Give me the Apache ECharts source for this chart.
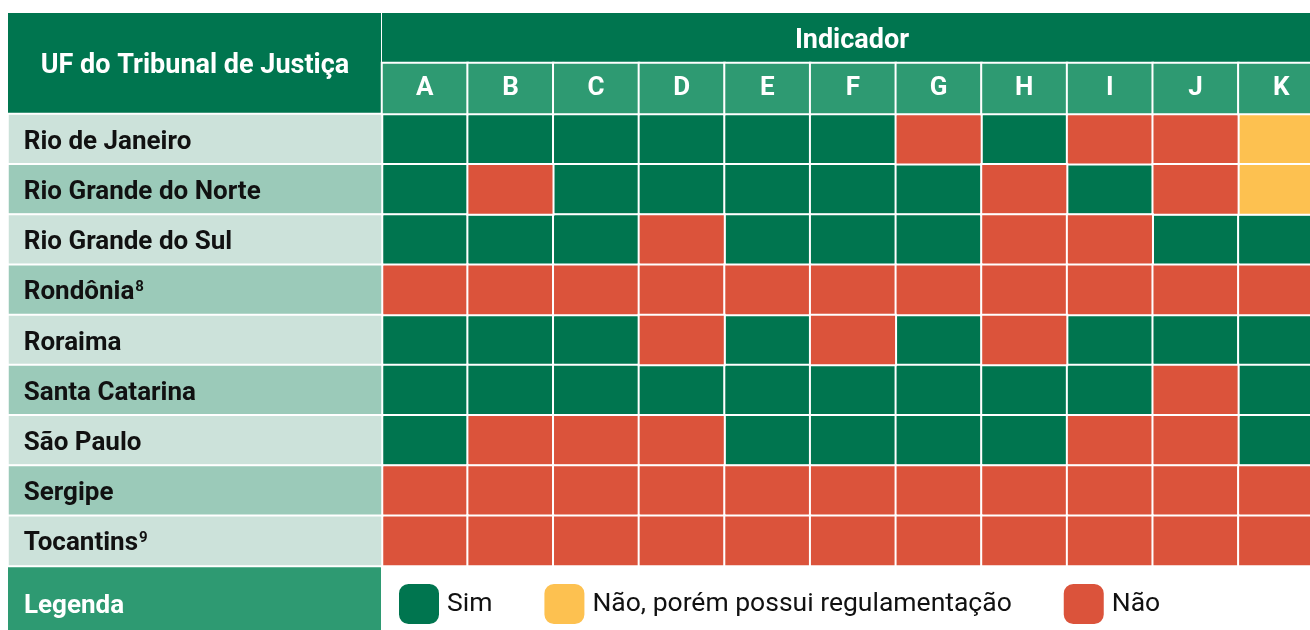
<!DOCTYPE html>
<html>
<head>
<meta charset="utf-8">
<script src="https://cdn.jsdelivr.net/npm/echarts@6/dist/echarts.min.js"></script>
<style>
  html, body { margin: 0; padding: 0; background: #fff; }
  #chart { width: 1310px; height: 630px; }
</style>
</head>
<body>
<div id="chart"></div>
<script>
// linhas (UF) e colunas (indicadores)
var ufs = ['Rio de Janeiro', 'Rio Grande do Norte', 'Rio Grande do Sul', 'Rondônia', 'Roraima',
    'Santa Catarina', 'São Paulo', 'Sergipe', 'Tocantins'];
var notas = ['', '', '', '8', '', '', '', '', '9'];
var indicadores = ['A', 'B', 'C', 'D', 'E', 'F', 'G', 'H', 'I', 'J', 'K'];

// 1 = Sim, 2 = Não, porém possui regulamentação, 0 = Não
var rioDeJaneiro     = [1, 1, 1, 1, 1, 1, 0, 1, 0, 0, 2];
var rioGrandeNorte   = [1, 0, 1, 1, 1, 1, 1, 0, 1, 0, 2];
var rioGrandeSul     = [1, 1, 1, 0, 1, 1, 1, 0, 0, 1, 1];
var rondonia         = [0, 0, 0, 0, 0, 0, 0, 0, 0, 0, 0];
var roraima          = [1, 1, 1, 0, 1, 0, 1, 0, 1, 1, 1];
var santaCatarina    = [1, 1, 1, 1, 1, 1, 1, 1, 1, 0, 1];
var saoPaulo         = [1, 0, 0, 0, 1, 1, 1, 1, 0, 0, 1];
var sergipe          = [0, 0, 0, 0, 0, 0, 0, 0, 0, 0, 0];
var tocantins        = [0, 0, 0, 0, 0, 0, 0, 0, 0, 0, 0];

var linhas = [rioDeJaneiro, rioGrandeNorte, rioGrandeSul, rondonia, roraima,
    santaCatarina, saoPaulo, sergipe, tocantins];

var legendas = ['Sim', 'Não, porém possui regulamentação', 'Não'];
var codigos = [1, 2, 0];

var verdeEscuro = '#00754f';
var verdeMedio = '#2e9a72';
var cores = { 1: verdeEscuro, 2: '#fdc150', 0: '#db533b' };

var chart = echarts.init(document.getElementById('chart'));

function dadosDe(codigo) {
    var out = [];
    linhas.forEach(function (linha, r) {
        linha.forEach(function (v, c) {
            if (v === codigo) out.push([c, r, v]);
        });
    });
    return out;
}

var fonte = 'Roboto, "Noto Sans", sans-serif';

var series = codigos.map(function (cod, i) {
    return {
        name: legendas[i],
        type: 'heatmap',
        xAxisIndex: 0,
        yAxisIndex: 0,
        data: dadosDe(cod),
        itemStyle: { color: cores[cod], borderColor: '#fff', borderWidth: 2 },
        emphasis: { disabled: true }
    };
});

// coluna de nomes das UFs
series.push({
    type: 'heatmap',
    xAxisIndex: 1,
    yAxisIndex: 1,
    data: ufs.map(function (uf, r) {
        return {
            value: [0, r, r],
            itemStyle: { color: r % 2 === 0 ? '#cce2da' : '#9bcab9' }
        };
    }),
    itemStyle: { borderColor: '#fff', borderWidth: 2 },
    label: {
        show: true,
        position: 'insideLeft',
        distance: 17,
        formatter: function (p) {
            var r = p.value[1];
            var txt = '{n|' + ufs[r] + '}';
            if (notas[r]) txt += '{s|' + notas[r] + '}';
            return txt;
        },
        rich: {
            n: { fontFamily: fonte, fontSize: 26, fontWeight: 'bold', color: '#111', lineHeight: 30, padding: [6, 0, 0, 0] },
            s: { fontFamily: fonte, fontSize: 15, fontWeight: 'bold', color: '#111', lineHeight: 15, verticalAlign: 'top', padding: [5, 0, 0, 1] }
        }
    },
    emphasis: { disabled: true },
    silent: true
});

// linha das letras dos indicadores
series.push({
    type: 'heatmap',
    xAxisIndex: 2,
    yAxisIndex: 2,
    data: indicadores.map(function (l, c) { return [c, 0, 0]; }),
    itemStyle: { color: verdeMedio, borderColor: '#fff', borderWidth: 2 },
    label: {
        show: true,
        formatter: function (p) { return indicadores[p.value[0]]; },
        fontFamily: fonte, fontSize: 26, fontWeight: 'bold', color: '#fff',
        padding: [6, 0, 0, 0]
    },
    emphasis: { disabled: true },
    silent: true
});

var option = {
    animation: false,
    textStyle: { fontFamily: fonte },
    grid: [
        { left: 382, top: 114, width: 942, height: 452, outerBoundsMode: 'none' },
        { left: 8, top: 114, width: 374, height: 452, outerBoundsMode: 'none' },
        { left: 382, top: 63, width: 942, height: 51, outerBoundsMode: 'none' }
    ],
    xAxis: [
        { type: 'category', gridIndex: 0, data: indicadores, show: false },
        { type: 'category', gridIndex: 1, data: ['UF'], show: false },
        { type: 'category', gridIndex: 2, data: indicadores, show: false }
    ],
    yAxis: [
        { type: 'category', gridIndex: 0, data: ufs, inverse: true, show: false },
        { type: 'category', gridIndex: 1, data: ufs, inverse: true, show: false },
        { type: 'category', gridIndex: 2, data: ['letra'], show: false }
    ],
    legend: {
        left: 397,
        top: 582,
        padding: 0,
        itemWidth: 42,
        itemHeight: 42,
        itemGap: 50,
        icon: 'roundRect',
        selectedMode: false,
        textStyle: { fontFamily: fonte, fontSize: 26.5, color: '#111', padding: [4, 0, 0, 2] },
        data: legendas.map(function (n, i) {
            return { name: n, itemStyle: { color: cores[codigos[i]] } };
        })
    },
    graphic: [
        {
            type: 'rect', left: 8, top: 13,
            shape: { width: 373, height: 100 },
            style: { fill: verdeEscuro }
        },
        {
            type: 'text', x: 195, y: 66,
            style: {
                text: 'UF do Tribunal de Justiça', fill: '#fff', fontFamily: fonte,
                fontSize: 27, fontWeight: 'bold', align: 'center', verticalAlign: 'middle'
            }
        },
        {
            type: 'rect', left: 382, top: 13,
            shape: { width: 942, height: 49 },
            style: { fill: verdeEscuro }
        },
        {
            type: 'text', x: 852, y: 41,
            style: {
                text: 'Indicador', fill: '#fff', fontFamily: fonte,
                fontSize: 27, fontWeight: 'bold', align: 'center', verticalAlign: 'middle'
            }
        },
        {
            type: 'rect', left: 8, top: 567,
            shape: { width: 373, height: 70 },
            style: { fill: verdeMedio }
        },
        {
            type: 'text', x: 24, y: 606,
            style: {
                text: 'Legenda', fill: '#fff', fontFamily: fonte,
                fontSize: 26, fontWeight: 'bold', align: 'left', verticalAlign: 'middle'
            }
        }
    ],
    series: series
};

chart.setOption(option);
window.addEventListener('resize', function () {
    chart.resize();
});
</script>
</body>
</html>
